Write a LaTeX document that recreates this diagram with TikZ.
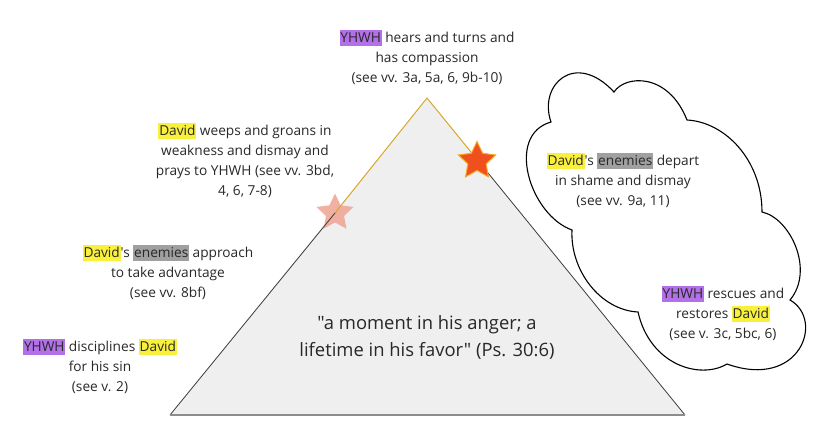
\documentclass[tikz,border=0pt]{standalone}
\usepackage{fontspec}
\newfontfamily\osans{Open Sans}
\usetikzlibrary{shapes.geometric}
\definecolor{hlp}{RGB}{180,112,232}
\definecolor{hly}{RGB}{248,240,58}
\definecolor{hlg}{RGB}{160,160,160}
\definecolor{txtc}{RGB}{40,40,40}
\definecolor{trifill}{RGB}{239,239,239}
\definecolor{gold}{RGB}{214,168,40}
\definecolor{edgec}{RGB}{60,60,60}
\definecolor{basec}{RGB}{140,140,140}
\definecolor{starlight}{RGB}{240,168,152}
\definecolor{starred}{RGB}{240,80,30}
\definecolor{starrim}{RGB}{245,166,35}
\newcommand\hl[2]{{\setlength\fboxsep{0pt}\colorbox{#1}{\rule[-3.5pt]{0pt}{16pt}\kern0.8pt #2\kern0.8pt}}}
\begin{document}
\begin{tikzpicture}[x=1pt,y=-1pt,
  txt/.style={align=center,inner sep=0pt,text=txtc,font=\osans\fontsize{13.7}{20}\selectfont},
  quote/.style={align=center,inner sep=0pt,text=txtc,font=\osans\fontsize{18.4}{27}\selectfont},
  starbox/.style={shape=star,star points=5,star point ratio=2.05,minimum size=39pt,inner sep=0pt}]
\useasboundingbox (0,0) rectangle (825,442);
% triangle
\coordinate (apex) at (427,98);
\coordinate (bl) at (170,415);
\coordinate (br) at (685,415);
\fill[trifill] (apex) -- (br) -- (bl) -- cycle;
\node[starbox,fill=starlight,opacity=0.9] (sL) at (335,213) {};
\draw[edgec,line width=0.8pt] (bl) -- (sL.center);
\draw[gold,line width=1pt] (sL.center) -- (apex) -- (477.5,160) coordinate (sRc);
\draw[edgec,line width=0.8pt] (sRc) -- (br);
\draw[basec,line width=2pt] (bl) -- (br);
\node[starbox,fill=starred,draw=starrim,line width=1pt] (sR) at (477,161) {};
% cloud
\coordinate (P1) at (551,122);
\coordinate (P2) at (614,92);
\coordinate (P3) at (687,120);
\coordinate (P4) at (762,212);
\coordinate (P5) at (790,300);
\coordinate (P6) at (727,364);
\coordinate (P7) at (638,312);
\coordinate (P8) at (572,230);
\draw[black,line width=1.1pt,line join=miter]
  (P1) .. controls (538,85) and (575,50) .. (P2)
       .. controls (625,75) and (668,72) .. (P3)
       .. controls (725,122) and (762,160) .. (P4)
       .. controls (790,218) and (815,270) .. (P5)
       .. controls (825,320) and (800,390) .. (P6)
       .. controls (700,380) and (650,365) .. (P7)
       .. controls (600,310) and (570,270) .. (P8)
       .. controls (530,215) and (505,135) .. cycle;
% texts
\node[txt] (t1) at (427,57) {\hl{hlp}{YHWH} hears and turns and\\has compassion\\(see vv. 3a, 5a, 6, 9b-10)};
\node[txt] (t2) at (245,160) {\hl{hly}{David} weeps and groans in\\weakness and dismay and\\prays to YHWH (see vv. 3bd,\\4, 6, 7-8)};
\node[txt] (t3) at (168,272) {\hl{hly}{David}'s \hl{hlg}{enemies} approach\\to take advantage\\(see vv. 8bf)};
\node[txt] (t4) at (100,366) {\hl{hlp}{YHWH} disciplines \hl{hly}{David}\\for his sin\\(see v. 2)};
\node[txt] (t5) at (623,180) {\hl{hly}{David}'s \hl{hlg}{enemies} depart\\in shame and dismay\\(see vv. 9a, 11)};
\node[txt] (t6) at (723,313) {\hl{hlp}{YHWH} rescues and\\restores \hl{hly}{David}\\(see v. 3c, 5bc, 6)};
\node[quote] (q) at (427,337) {"a moment in his anger; a\\lifetime in his favor" (Ps. 30:6)};
\end{tikzpicture}
\end{document}
